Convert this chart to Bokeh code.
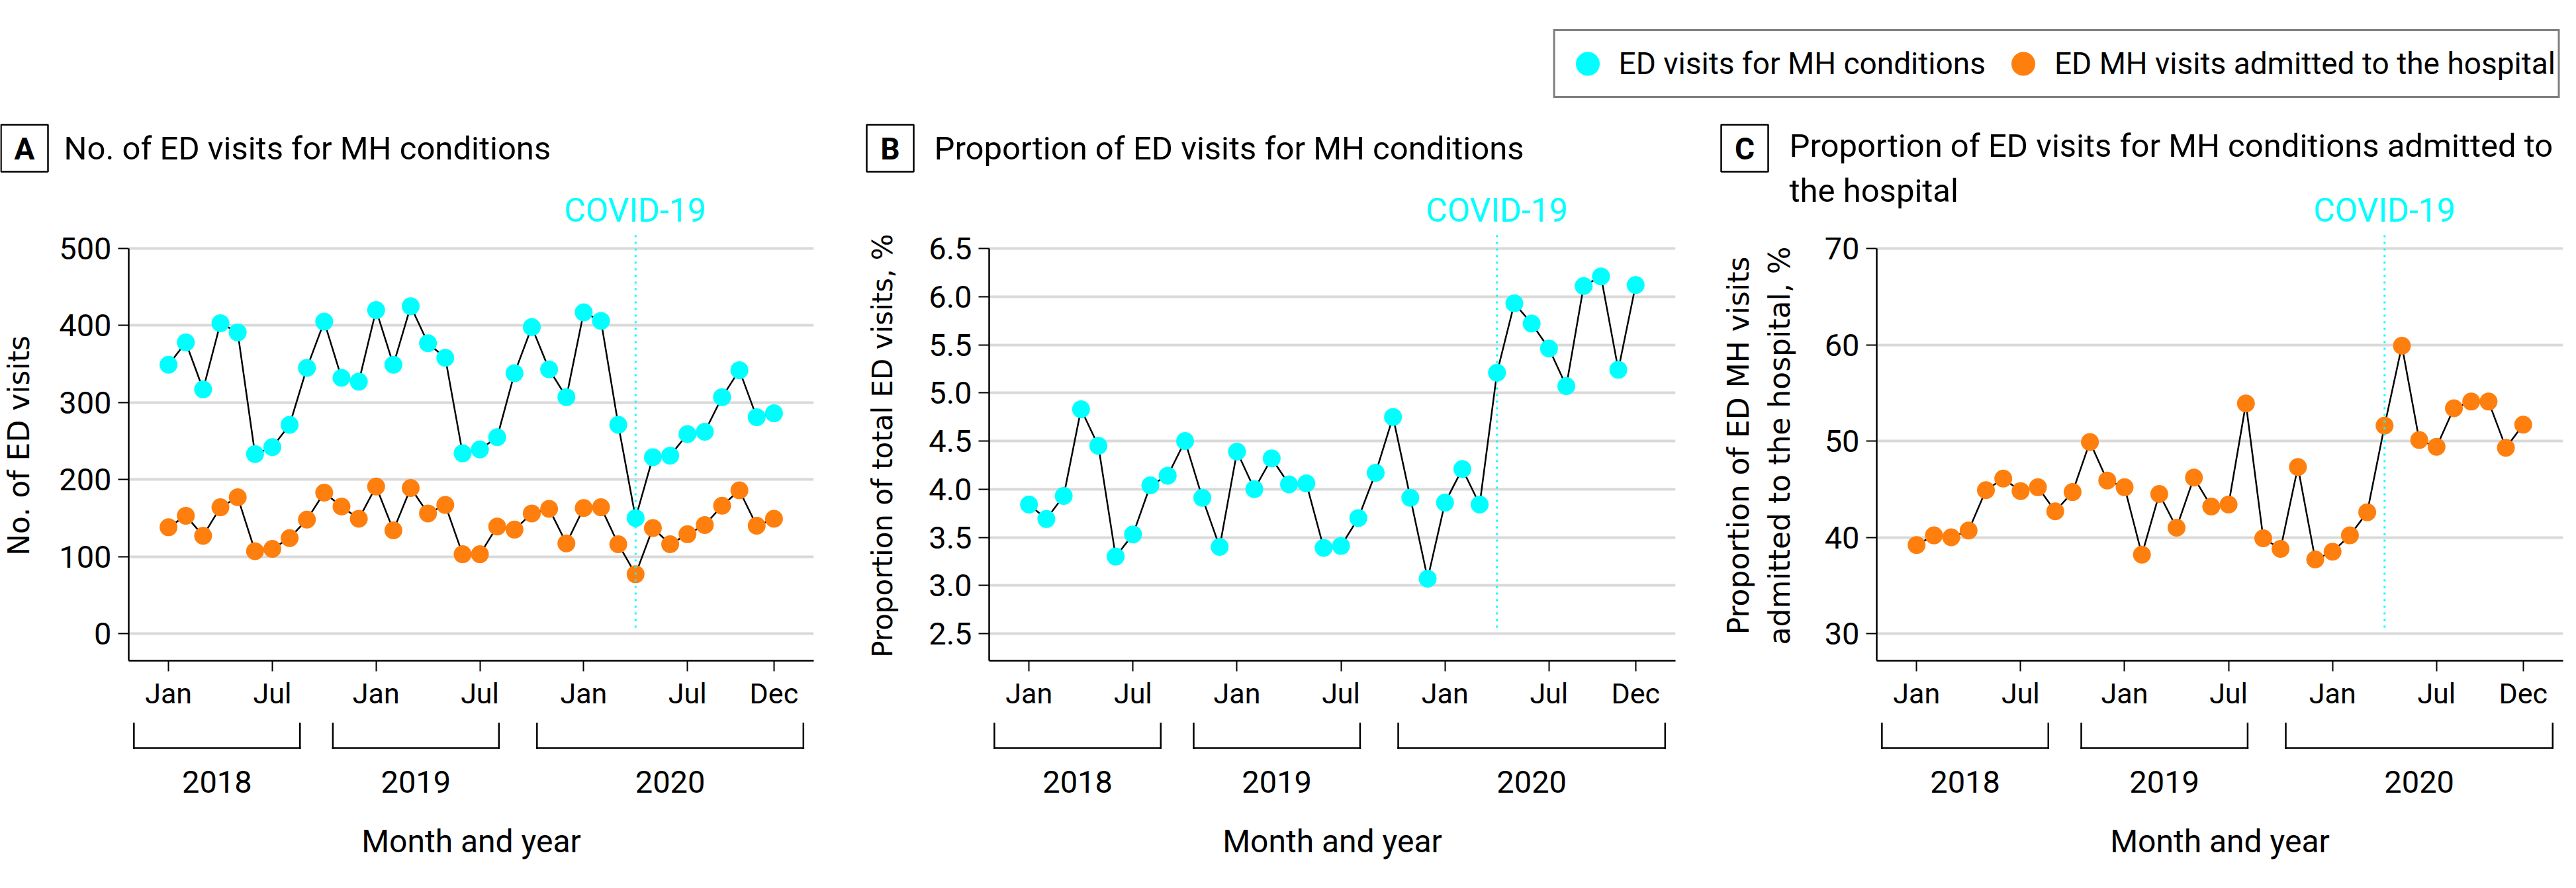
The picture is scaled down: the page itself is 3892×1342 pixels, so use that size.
from bokeh.plotting import figure
from bokeh.models import Range1d, FixedTicker, Legend, LegendItem
from bokeh.layouts import column, row
from bokeh.embed import file_html
from bokeh.resources import INLINE
from bokeh.core.properties import value

# ---------------- data ----------------
month_index = list(range(36))  # Jan 2018 ... Dec 2020
month_tick_pos = [0, 6, 12, 18, 24, 30, 35]
month_tick_labels = ["Jan", "Jul", "Jan", "Jul", "Jan", "Jul", "Dec"]
year_labels = ["2018", "2019", "2020"]
year_bracket_from = [-2.0, 9.5, 21.3]
year_bracket_to = [7.6, 19.1, 36.7]
covid_month = 27

ed_visits_mh = [349, 378, 317, 403, 391, 233, 242, 271, 345, 405, 332, 327,
                420, 349, 425, 377, 358, 234, 239, 255, 338, 398, 343, 307,
                417, 406, 271, 150, 229, 231, 259, 262, 307, 342, 281, 286]
ed_visits_admitted = [138, 153, 127, 164, 177, 107, 110, 124, 148, 183, 165, 149,
                      191, 134, 189, 156, 167, 103, 103, 139, 135, 156, 162, 117,
                      163, 164, 116, 77, 137, 116, 129, 141, 166, 186, 140, 149]
pct_total_ed_mh = [3.84, 3.69, 3.93, 4.83, 4.45, 3.30, 3.53, 4.04, 4.14, 4.50, 3.91, 3.40,
                   4.39, 4.00, 4.32, 4.05, 4.06, 3.39, 3.41, 3.70, 4.17, 4.75, 3.91, 3.07,
                   3.86, 4.21, 3.84, 5.21, 5.93, 5.72, 5.46, 5.07, 6.11, 6.21, 5.24, 6.12]
pct_admitted = [39.2, 40.2, 40.0, 40.7, 44.9, 46.1, 44.8, 45.2, 42.7, 44.7, 49.9, 45.9,
                45.2, 38.2, 44.5, 41.0, 46.2, 43.2, 43.4, 53.9, 39.9, 38.8, 47.3, 37.7,
                38.5, 40.2, 42.6, 51.6, 59.9, 50.1, 49.4, 53.4, 54.1, 54.1, 49.3, 51.7]

a_ticks = [0, 100, 200, 300, 400, 500]
a_tick_labels = ["0", "100", "200", "300", "400", "500"]
b_ticks = [2.5, 3.0, 3.5, 4.0, 4.5, 5.0, 5.5, 6.0, 6.5]
b_tick_labels = ["2.5", "3.0", "3.5", "4.0", "4.5", "5.0", "5.5", "6.0", "6.5"]
c_ticks = [30, 40, 50, 60, 70]
c_tick_labels = ["30", "40", "50", "60", "70"]

series_names = ["ED visits for MH conditions", "ED MH visits admitted to the hospital"]

# ---------------- style / layout (page pixels) ----------------
CYAN = "#00FFFF"
ORANGE = "#FF7F0E"
GRID = "#d9d9d9"
FONT = "Roboto"
YFONT = "DejaVu Sans"

LEG_H = 170                 # page 8 -> 178
HEAD_TOP, HEAD_BOTTOM = 178, 356
MAIN_TOP, MAIN_BOTTOM = 356, 1090
FRAME_BOTTOM = 1006
FOOT_TOP, FOOT_FRAME_BOTTOM, FOOT_BOTTOM = 1090, 1240, 1334
TICK_TOP_PX, TICK_BOTTOM_PX = 383, 965
FRAME_W = 1037
X0, X1 = -2.3, 37.3


def base_fig(**kw):
    p = figure(output_backend="svg", toolbar_location=None, title=None,
               outline_line_color=None, background_fill_color="white",
               border_fill_color="white", **kw)
    return p


def make_panel(page_left, width, frame_left, ticks, tick_labels, y_label, y_label_size,
               y_label_standoff, letter, box_left, title_left, title, title_cy, series):
    bl = frame_left - page_left
    br = width - bl - FRAME_W
    lo, hi = ticks[0], ticks[-1]
    upp = (hi - lo) / (TICK_BOTTOM_PX - TICK_TOP_PX)
    yr = (lo - (FRAME_BOTTOM - TICK_BOTTOM_PX) * upp, hi + (TICK_TOP_PX - MAIN_TOP) * upp)

    def Xm(px):
        return X0 + (px - frame_left) * (X1 - X0) / FRAME_W

    def Y(py):
        return yr[0] + (FRAME_BOTTOM - py) * upp

    xr = Range1d(X0, X1)

    # ---------- head: panel letter, title, COVID-19 label ----------
    hf = base_fig(width=width, height=HEAD_BOTTOM - HEAD_TOP,
                  x_range=Range1d(Xm(page_left), Xm(page_left + width)),
                  y_range=Range1d(HEAD_BOTTOM, HEAD_TOP),
                  x_axis_location=None, y_axis_location=None, frame_align=False,
                  min_border=0, min_border_left=0, min_border_right=0,
                  min_border_top=0, min_border_bottom=0)
    hf.grid.visible = False
    hf.quad(left=[Xm(box_left)], right=[Xm(box_left + 71)], top=[196], bottom=[267],
            fill_color=None, line_color="black", line_width=2.5)
    hf.text(x=[Xm(box_left + 35.5)], y=[232], text=[letter], text_font=value(FONT),
            text_font_style="bold", text_font_size=value("46px"), text_color="black",
            text_align="center", text_baseline="middle")
    hf.text(x=[Xm(title_left)], y=[title_cy], text=[title], text_font=value(FONT),
            text_font_size=value("49px"), text_color="black",
            text_align="left", text_baseline="middle", text_line_height=1.2)
    hf.text(x=[covid_month], y=[325], text=["COVID-19"], text_font=value(FONT),
            text_font_size=value("50px"), text_color=CYAN,
            text_align="center", text_baseline="middle")

    # ---------- main plot ----------
    p = base_fig(width=width, height=MAIN_BOTTOM - MAIN_TOP,
                 x_range=xr, y_range=Range1d(*yr),
                 min_border_left=bl, min_border_right=br,
                 min_border_top=0, min_border_bottom=MAIN_BOTTOM - FRAME_BOTTOM)

    xa = p.xaxis[0]
    xa.ticker = FixedTicker(ticks=month_tick_pos, minor_ticks=[])
    xa.major_label_overrides = {t: l for t, l in zip(month_tick_pos, month_tick_labels)}
    xa.axis_line_width = 2.5
    xa.axis_line_color = "black"
    xa.major_tick_line_width = 2
    xa.major_tick_line_color = "black"
    xa.major_tick_out = 16
    xa.major_tick_in = 0
    xa.minor_tick_out = 0
    xa.minor_tick_in = 0
    xa.major_label_standoff = 8
    xa.major_label_text_font = FONT
    xa.major_label_text_font_size = "43px"
    xa.major_label_text_color = "black"

    ya = p.yaxis[0]
    ya.ticker = FixedTicker(ticks=ticks, minor_ticks=[])
    ya.major_label_overrides = {t: l for t, l in zip(ticks, tick_labels)}
    ya.bounds = (yr[0], hi)
    ya.axis_line_width = 2.5
    ya.axis_line_color = "black"
    ya.major_tick_line_width = 2
    ya.major_tick_line_color = "black"
    ya.major_tick_out = 16
    ya.major_tick_in = 0
    ya.minor_tick_out = 0
    ya.minor_tick_in = 0
    ya.major_label_standoff = 10
    ya.major_label_text_font = FONT
    ya.major_label_text_font_size = "47px"
    ya.major_label_text_color = "black"
    ya.axis_label = y_label
    ya.axis_label_text_font = YFONT
    ya.axis_label_text_font_size = y_label_size
    ya.axis_label_text_font_style = "normal"
    ya.axis_label_text_color = "black"
    ya.axis_label_text_line_height = 1.2
    ya.axis_label_standoff = y_label_standoff

    p.xgrid.visible = False
    p.ygrid.grid_line_color = GRID
    p.ygrid.grid_line_width = 4

    for values, color in series:
        p.line(month_index, values, line_color="black", line_width=2.5)
        p.scatter(month_index, values, marker="circle", size=27,
                  fill_color=color, line_color=None)

    p.segment(x0=[covid_month], y0=[Y(956)], x1=[covid_month], y1=[Y(362)],
              line_color=CYAN, line_width=3, line_dash="3 7")

    # ---------- foot: year brackets, years, x-axis title ----------
    ff = base_fig(width=width, height=FOOT_BOTTOM - FOOT_TOP,
                  x_range=xr, y_range=Range1d(FOOT_FRAME_BOTTOM, FOOT_TOP),
                  y_axis_location=None,
                  min_border_left=bl, min_border_right=br,
                  min_border_top=0, min_border_bottom=FOOT_BOTTOM - FOOT_FRAME_BOTTOM)
    ff.grid.visible = False
    fa = ff.xaxis[0]
    fa.ticker = FixedTicker(ticks=[], minor_ticks=[])
    fa.axis_line_color = None
    fa.major_tick_out = 0
    fa.major_tick_in = 0
    fa.minor_tick_out = 0
    fa.minor_tick_in = 0
    fa.major_label_standoff = 0
    fa.axis_label = "Month and year"
    fa.axis_label_text_font = FONT
    fa.axis_label_text_font_size = "48px"
    fa.axis_label_text_font_style = "normal"
    fa.axis_label_text_color = "black"
    fa.axis_label_standoff = 10

    br_top, br_bot = 1101, 1138
    sx0, sy0, sx1, sy1 = [], [], [], []
    for a, b in zip(year_bracket_from, year_bracket_to):
        sx0 += [a, a, b]
        sy0 += [br_top, br_bot, br_bot]
        sx1 += [a, b, b]
        sy1 += [br_bot, br_bot, br_top]
    ff.segment(x0=sx0, y0=sy0, x1=sx1, y1=sy1, line_color="black",
               line_width=2.5, line_cap="square")
    centers = [(a + b) / 2 for a, b in zip(year_bracket_from, year_bracket_to)]
    ff.text(x=centers, y=[1189] * len(centers), text=year_labels, text_font=value(FONT),
            text_font_size=value("47px"), text_color="black",
            text_align="center", text_baseline="middle")

    return column(hf, p, ff, spacing=0)


colA = make_panel(8, 1292, 200, a_ticks, a_tick_labels, "No. of ED visits", "44px", 32,
                  "A", 9, 104, "No. of ED visits for MH conditions", 232,
                  [(ed_visits_mh, CYAN), (ed_visits_admitted, ORANGE)])
colB = make_panel(1300, 1290, 1502, b_ticks, b_tick_labels,
                  "Proportion of total ED visits, %", "42px", 42,
                  "B", 1317, 1419, "Proportion of ED visits for MH conditions", 232,
                  [(pct_total_ed_mh, CYAN)])
colC = make_panel(2590, 1294, 2843, c_ticks, c_tick_labels,
                  "Proportion of ED MH visits\nadmitted to the hospital, %", "44px", 40,
                  "C", 2608, 2711,
                  "Proportion of ED visits for MH conditions admitted to\nthe hospital", 262,
                  [(pct_admitted, ORANGE)])

# ---------------- legend strip ----------------
lf = base_fig(width=3876, height=LEG_H, x_range=Range1d(0, 1), y_range=Range1d(0, 1),
              x_axis_location=None, y_axis_location=None, frame_align=False,
              min_border_left=0, min_border_right=8, min_border_top=44, min_border_bottom=0)
lf.grid.visible = False
r1 = lf.scatter(x=[-5], y=[-5], marker="circle", size=27, fill_color=CYAN, line_color=None)
r2 = lf.scatter(x=[-5], y=[-5], marker="circle", size=27, fill_color=ORANGE, line_color=None)
legend = Legend(items=[LegendItem(label=series_names[0], renderers=[r1]),
                       LegendItem(label=series_names[1], renderers=[r2])],
                location="top_right", orientation="horizontal", margin=0,
                padding=4, spacing=12, label_standoff=2,
                glyph_width=90, glyph_height=90,
                label_text_font=FONT, label_text_font_size="46px",
                label_text_color="black",
                border_line_color="black", border_line_width=3,
                background_fill_color="white", background_fill_alpha=1)
lf.add_layout(legend)

layout = column(lf, row(colA, colB, colC, spacing=0), spacing=0)
open("out.html", "w").write(file_html(layout, INLINE))
